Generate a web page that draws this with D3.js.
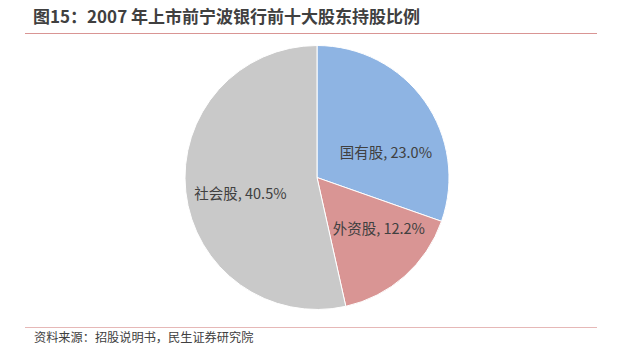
<!DOCTYPE html>
<html><head><meta charset="utf-8">
<script src="https://cdn.jsdelivr.net/npm/d3@7"></script>
<style>
body{margin:0;background:#fff;}
text{font-family:"Noto Sans CJK SC","Noto Sans",sans-serif;}
</style></head>
<body><svg id="c" width="621" height="353"></svg>
<script>
const categories = ["国有股", "外资股", "社会股"];
const values = [23.0, 12.2, 40.5];
const colors = ["#8EB4E3", "#D99594", "#C9C9C9"];
const titleText = "图15：2007 年上市前宁波银行前十大股东持股比例";
const sourceText = "资料来源：招股说明书，民生证券研究院";

const svg = d3.select("#c");
const cx = 317, cy = 177.5, R = 132;

svg.append("text").attr("x", 33).attr("y", 23).attr("font-size", 17).attr("font-weight", "bold")
  .attr("fill", "#404040").text(titleText);
svg.append("line").attr("x1", 25).attr("x2", 597).attr("y1", 33.5).attr("y2", 33.5)
  .attr("stroke", "#D99594").attr("stroke-width", 1.2);
svg.append("line").attr("x1", 25).attr("x2", 597).attr("y1", 327.5).attr("y2", 327.5)
  .attr("stroke", "#E6B8B7").attr("stroke-width", 1.2);
svg.append("text").attr("x", 34).attr("y", 342).attr("font-size", 12.2)
  .attr("fill", "#404040").text(sourceText);

const data = categories.map((c, i) => ({cat: c, v: values[i], color: colors[i]}));
const pie = d3.pie().value(d => d.v).sort(null);
const arc = d3.arc().innerRadius(0).outerRadius(R);
const arcs = pie(data);
const g = svg.append("g").attr("transform", `translate(${cx},${cy})`);
g.selectAll("path").data(arcs).join("path")
  .attr("d", arc).attr("fill", d => d.data.color)
  .attr("stroke", "#fff").attr("stroke-width", 1);

// label nudges relative to centroid
const nudges = [[15, 12], [18, 1], [-11, 8]];
g.selectAll("text.lbl").data(arcs).join("text").attr("class", "lbl")
  .attr("transform", (d, i) => {
    const c = arc.centroid(d);
    return `translate(${c[0] + nudges[i][0]},${c[1] + nudges[i][1]})`;
  })
  .attr("text-anchor", "middle").attr("dominant-baseline", "central")
  .attr("font-size", 14.5).attr("fill", "#404040")
  .text(d => `${d.data.cat}, ${d3.format(".1f")(d.data.v)}%`);
</script></body></html>
